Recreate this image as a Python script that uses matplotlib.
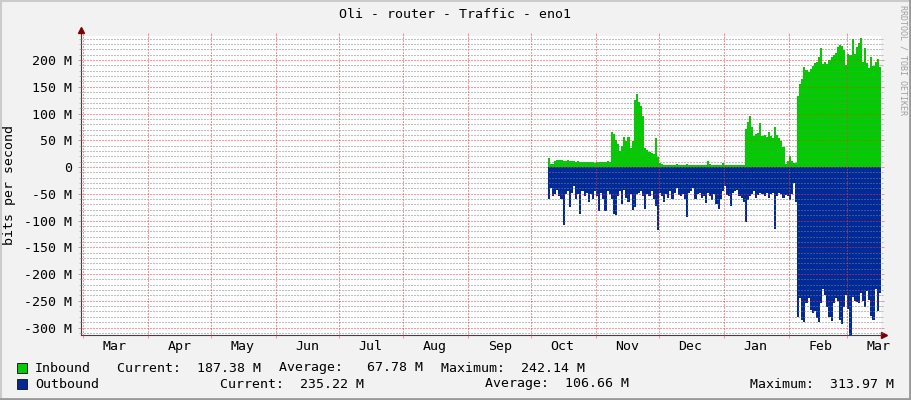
import numpy as np
import pandas as pd
import matplotlib
matplotlib.use('Agg')
import matplotlib.pyplot as plt
import matplotlib.dates as mdates
from matplotlib.ticker import FixedLocator, MultipleLocator, FuncFormatter, NullFormatter
from matplotlib.patches import Rectangle
from matplotlib.lines import Line2D

# daily traffic in Mbit/s, first sample on 2024-10-09
first_day = '2024-10-09'
inbound = [
    17, 6, 5, 12, 14, 14, 13, 12, 12, 13,
    12, 11, 12, 10, 11, 10, 10, 9, 10, 9,
    9, 10, 8, 9, 9, 10, 9, 10, 11, 10,
    65, 62, 50, 44, 30, 40, 56, 48, 57, 35,
    48, 125, 136, 122, 114, 95, 35, 31, 28, 27,
    25, 55, 18, 8, 5, 4, 4, 4, 3, 4,
    4, 5, 4, 3, 3, 4, 5, 4, 4, 3,
    3, 4, 4, 4, 3, 4, 11, 5, 3, 4,
    3, 4, 4, 7, 4, 3, 4, 4, 3, 4,
    4, 3, 4, 4, 72, 84, 96, 75, 58, 62,
    64, 83, 58, 60, 56, 66, 58, 54, 75, 60,
    55, 48, 38, 6, 12, 20, 11, 8, 7, 132,
    155, 165, 187, 182, 178, 184, 188, 195, 196, 205,
    222, 192, 196, 192, 200, 205, 210, 213, 225, 228,
    226, 218, 190, 212, 210, 240, 212, 225, 232, 242,
    196, 222, 195, 186, 205, 188, 196, 202, 187,
]
outbound = [
    60, 40, 55, 50, 42, 55, 60, 109, 50, 45,
    75, 48, 35, 60, 50, 88, 45, 55, 48, 65,
    50, 60, 45, 55, 82, 48, 60, 82, 45, 50,
    60, 88, 90, 55, 45, 70, 42, 58, 65, 50,
    80, 75, 50, 48, 45, 55, 78, 50, 55, 45,
    60, 72, 118, 48, 55, 66, 50, 58, 45, 60,
    48, 40, 52, 55, 50, 60, 94, 48, 45, 40,
    60, 50, 48, 58, 55, 68, 48, 55, 62, 50,
    70, 78, 60, 45, 35, 52, 55, 72, 48, 45,
    42, 55, 58, 65, 103, 62, 55, 50, 45, 58,
    52, 48, 50, 55, 48, 58, 50, 48, 116, 55,
    48, 50, 58, 52, 55, 62, 50, 29, 65, 280,
    245, 285, 290, 255, 245, 268, 272, 270, 282, 290,
    255, 228, 240, 262, 280, 288, 255, 245, 250, 285,
    293, 262, 240, 265, 314, 242, 250, 252, 255, 236,
    250, 262, 232, 248, 278, 285, 228, 270, 235,
]

y_major = list(range(-300, 201, 50))
legend_rows = [
    ('Inbound', '#00CC00', ['Current:  187.38 M', 'Average:   67.78 M', 'Maximum:  242.14 M'], [117, 279, 441]),
    ('Outbound', '#002A97', ['Current:  235.22 M', 'Average:  106.66 M', 'Maximum:  313.97 M'], [220, 485, 750]),
]

W, H = 911, 400
def px(x, y):
    return x / W, 1 - y / H

plt.rcParams['font.family'] = ['DejaVu Sans Mono']
FS = 9.5
RED_GRID = (1, 0.2, 0.2, 0.28)
GREY_GRID = (0.5, 0.5, 0.5, 0.3)

fig = plt.figure(figsize=(W / 100, H / 100), dpi=100, facecolor='#F2F2F2')
ax = fig.add_axes([81 / W, 1 - 335 / H, 800 / W, 299 / H])
ax.set_facecolor('white')

edges = mdates.date2num(pd.date_range(first_day, periods=len(inbound) + 1, freq='D'))
ax.stairs(inbound, edges, baseline=0, fill=True, color='#00CC00', lw=0)
ax.stairs(-np.array(outbound), edges, baseline=0, fill=True, color='#002A97', lw=0)

ax.set_xlim(mdates.date2num(pd.Timestamp('2024-02-29')),
            mdates.date2num(pd.Timestamp('2025-03-17 02:00')))
ax.set_ylim(-313.97, 245)

# months: grid on the 1st, label in the middle
ax.xaxis.set_major_locator(mdates.MonthLocator())
ax.xaxis.set_major_formatter(NullFormatter())
ax.xaxis.set_minor_locator(mdates.MonthLocator(bymonthday=16))
ax.xaxis.set_minor_formatter(mdates.DateFormatter('%b'))
ax.tick_params(axis='x', which='minor', length=0, pad=3.5, labelsize=FS)
ax.tick_params(axis='x', which='major', length=2, width=0.7, color=(1, 0.3, 0.3, 0.6),
               top=True, direction='out')

ax.yaxis.set_major_locator(FixedLocator(y_major))
ax.yaxis.set_minor_locator(MultipleLocator(10))
ax.yaxis.set_major_formatter(FuncFormatter(lambda v, p: '0' if v == 0 else f'{int(v)} M'))
ax.tick_params(axis='y', which='major', length=2.5, width=0.7, color=(0.8, 0.2, 0.2, 0.5),
               left=True, right=True, pad=4, labelsize=FS)
ax.tick_params(axis='y', which='minor', length=1.5, width=0.7, color=(0.5, 0.5, 0.5, 0.5),
               left=True, right=True)

ax.set_axisbelow(False)
dots = (0, (1, 2))
ax.xaxis.grid(True, which='major', color=RED_GRID, linestyle=dots, lw=0.72)
ax.yaxis.grid(True, which='major', color=RED_GRID, linestyle=dots, lw=0.72)
ax.yaxis.grid(True, which='minor', color=GREY_GRID, linestyle=dots, lw=0.72)

for side in ['top', 'right']:
    ax.spines[side].set_visible(False)
for side in ['left', 'bottom']:
    ax.spines[side].set_color('#404040')
    ax.spines[side].set_linewidth(0.8)

# axis arrows
ax.plot([0, 0], [1, 1.02], color='#404040', lw=0.8, transform=ax.transAxes, clip_on=False)
ax.plot(0, 1.02, marker='^', ms=4, color='#7F0000', transform=ax.transAxes, clip_on=False)
ax.plot([1, 1.004], [0, 0], color='#404040', lw=0.8, transform=ax.transAxes, clip_on=False)
ax.plot(1.004, 0, marker='>', ms=4, color='#7F0000', transform=ax.transAxes, clip_on=False)

# texts
fig.text(*px(455, 14), 'Oli - router - Traffic - eno1', ha='center', va='center', fontsize=FS)
fig.text(*px(10, 185), 'bits per second', rotation=90, ha='center', va='center', fontsize=FS)
fig.text(*px(903, 60), 'RRDTOOL / TOBI OETIKER', rotation=270, ha='center', va='center',
         fontsize=6, color='#A0A0A0')

# legend
for row, (name, col, items, xs) in enumerate(legend_rows):
    yc = 368 + 16 * row
    fig.add_artist(Rectangle(px(17, yc + 5), 10 / W, 10 / H, transform=fig.transFigure,
                             facecolor=col, edgecolor='#202020', lw=0.7))
    fig.text(*px(35, yc), name, va='center', fontsize=FS)
    for txt, x in zip(items, xs):
        fig.text(*px(x, yc), txt, va='center', fontsize=FS)

# bevelled frame
fig.add_artist(Line2D([0, 1], [1 - 1 / H] * 2, color='#CBCBCB', lw=1.5))
fig.add_artist(Line2D([1 / W] * 2, [0, 1], color='#CBCBCB', lw=1.5))
fig.add_artist(Line2D([0, 1], [1.5 / H] * 2, color='#999999', lw=2))
fig.add_artist(Line2D([1 - 1.5 / W] * 2, [0, 1], color='#999999', lw=2))

fig.savefig('out.png', dpi=100, facecolor=fig.get_facecolor())
